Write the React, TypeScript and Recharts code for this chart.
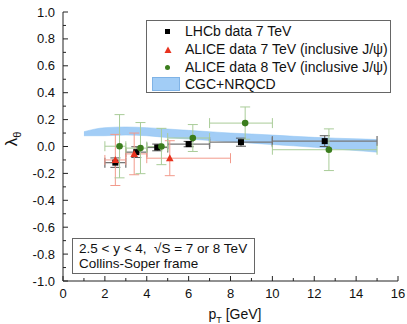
import React from 'react'
import {
  ComposedChart,
  Area,
  Scatter,
  ErrorBar,
  XAxis,
  YAxis,
} from 'recharts'

// LHCb 7 TeV
const lhcbPt = [2.5, 3.5, 4.5, 6.0, 8.5, 12.5]
const lhcbLam = [-0.12, -0.042, -0.007, 0.018, 0.032, 0.04]
const lhcbErr = [0.035, 0.04, 0.025, 0.02, 0.03, 0.04]
const lhcbPtLo = [2, 3, 4, 5, 7, 10]
const lhcbPtHi = [3, 4, 5, 7, 10, 15]

// ALICE 7 TeV (inclusive)
const alice7Pt = [2.5, 3.4, 5.1]
const alice7Lam = [-0.1, -0.055, -0.087]
const alice7Err = [0.19, 0.155, 0.13]
const alice7PtLo = [2, 3, 4]
const alice7PtHi = [3, 4, 8]

// ALICE 8 TeV (inclusive)
const alice8Pt = [2.7, 3.7, 4.7, 6.2, 8.7, 12.7]
const alice8Lam = [0.002, -0.012, 0.0, 0.063, 0.174, -0.024]
const alice8Err = [0.235, 0.19, 0.135, 0.1, 0.12, 0.155]
const alice8PtLo = [2, 3, 4, 5, 7, 10]
const alice8PtHi = [3, 4, 5, 7, 10, 15]

// CGC+NRQCD band
const bandPt = [1, 2, 3, 4, 5, 6, 7, 8, 9, 10, 11, 12, 13, 14, 15]
const bandLo = [0.08, 0.08, 0.085, 0.08, 0.066, 0.055, 0.045, 0.035, 0.025, 0.015, 0.005, -0.006, -0.018, -0.03, -0.042]
const bandHi = [0.11, 0.14, 0.145, 0.14, 0.13, 0.12, 0.11, 0.1, 0.093, 0.085, 0.076, 0.068, 0.062, 0.057, 0.052]

const xTicks = [0, 1, 2, 3, 4, 5, 6, 7, 8, 9, 10, 11, 12, 13, 14, 15, 16]
const yTicks = [-1, -0.9, -0.8, -0.7, -0.6, -0.5, -0.4, -0.3, -0.2, -0.1, 0, 0.1, 0.2, 0.3, 0.4, 0.5, 0.6, 0.7, 0.8, 0.9, 1]

const toPoints = (pt: number[], lam: number[], err: number[], lo: number[], hi: number[]) =>
  pt.map((x, i) => ({ x, y: lam[i], ey: err[i], ex: [x - lo[i], hi[i] - x] }))

const lhcb = toPoints(lhcbPt, lhcbLam, lhcbErr, lhcbPtLo, lhcbPtHi)
const alice7 = toPoints(alice7Pt, alice7Lam, alice7Err, alice7PtLo, alice7PtHi)
const alice8 = toPoints(alice8Pt, alice8Lam, alice8Err, alice8PtLo, alice8PtHi)
const band = bandPt.map((x, i) => ({ x, range: [bandLo[i], bandHi[i]] }))

const FONT = '"Liberation Sans", Arial, sans-serif'
const AXIS = '#222'
const RED = '#e8321e'
const GREEN = '#3b7d1d'

const isMajorX = (v: number) => v % 2 === 0
const isMajorY = (v: number) => Math.round(v * 10) % 2 === 0

const BottomTick = (p: any) => {
  const v = p.payload.value
  const major = isMajorX(v)
  return (
    <g>
      <line x1={p.x} x2={p.x} y1={p.y} y2={p.y - (major ? 5 : 3)} stroke={AXIS} />
      {major && (
        <text x={p.x} y={p.y + 12} dy="0.35em" textAnchor="middle" fontSize={13} fill="#111" fontFamily={FONT}>
          {v}
        </text>
      )}
    </g>
  )
}

const TopTick = (p: any) => {
  const major = isMajorX(p.payload.value)
  return <line x1={p.x} x2={p.x} y1={p.y} y2={p.y + (major ? 5 : 3)} stroke={AXIS} />
}

const LeftTick = (p: any) => {
  const v = p.payload.value
  const major = isMajorY(v)
  return (
    <g>
      <line x1={p.x} x2={p.x + (major ? 5 : 3)} y1={p.y} y2={p.y} stroke={AXIS} />
      {major && (
        <text x={p.x - 8} y={p.y} dy="0.35em" textAnchor="end" fontSize={13} fill="#111" fontFamily={FONT}>
          {v.toFixed(1)}
        </text>
      )}
    </g>
  )
}

const RightTick = (p: any) => {
  const major = isMajorY(p.payload.value)
  return <line x1={p.x} x2={p.x - (major ? 5 : 3)} y1={p.y} y2={p.y} stroke={AXIS} />
}

const Square = (p: any) => <rect x={p.cx - 3} y={p.cy - 3} width={6} height={6} fill="#000" />
const Circle = (p: any) => <circle cx={p.cx} cy={p.cy} r={3.3} fill={GREEN} />
const Triangle = (p: any) => (
  <polygon points={`${p.cx},${p.cy - 4} ${p.cx - 3.8},${p.cy + 3} ${p.cx + 3.8},${p.cy + 3}`} fill={RED} />
)

export default function App() {
  return (
    <div style={{ position: 'absolute', left: 0, top: 0, width: 407, height: 324, background: '#fff', fontFamily: FONT }}>
      <ComposedChart width={407} height={324} data={band} margin={{ top: 12, right: 9, bottom: 0, left: 0 }}>
        <XAxis
          dataKey="x"
          type="number"
          domain={[0, 16]}
          ticks={xTicks}
          interval={0}
          allowDataOverflow
          height={43}
          tickSize={0}
          tickMargin={0}
          tickLine={false}
          axisLine={{ stroke: AXIS }}
          tick={<BottomTick />}
        />
        <XAxis
          xAxisId="top"
          orientation="top"
          dataKey="x"
          type="number"
          domain={[0, 16]}
          ticks={xTicks}
          interval={0}
          allowDataOverflow
          height={0}
          tickSize={0}
          tickMargin={0}
          tickLine={false}
          axisLine={{ stroke: AXIS }}
          tick={<TopTick />}
        />
        <YAxis
          type="number"
          domain={[-1, 1]}
          ticks={yTicks}
          interval={0}
          allowDataOverflow
          width={63}
          tickSize={0}
          tickMargin={0}
          tickLine={false}
          axisLine={{ stroke: AXIS }}
          tick={<LeftTick />}
        />
        <YAxis
          yAxisId="right"
          orientation="right"
          type="number"
          domain={[-1, 1]}
          ticks={yTicks}
          interval={0}
          allowDataOverflow
          width={0}
          tickSize={0}
          tickMargin={0}
          tickLine={false}
          axisLine={{ stroke: AXIS }}
          tick={<RightTick />}
        />
        <Area
          dataKey="range"
          type="monotone"
          fill="#a2cdf6"
          fillOpacity={1}
          stroke="#8cc2f3"
          strokeWidth={0.5}
          isAnimationActive={false}
        />
        <Scatter data={lhcb} dataKey="y" shape={<Square />} isAnimationActive={false}>
          <ErrorBar dataKey="ex" direction="x" width={5} stroke="#777" strokeWidth={1.3} />
          <ErrorBar dataKey="ey" direction="y" width={5} stroke="#555" strokeWidth={1} />
        </Scatter>
        <Scatter data={alice7} dataKey="y" shape={<Triangle />} isAnimationActive={false}>
          <ErrorBar dataKey="ex" direction="x" width={5} stroke="#f29a8c" strokeWidth={1} />
          <ErrorBar dataKey="ey" direction="y" width={5} stroke="#f29a8c" strokeWidth={1} />
        </Scatter>
        <Scatter data={alice8} dataKey="y" shape={<Circle />} isAnimationActive={false}>
          <ErrorBar dataKey="ex" direction="x" width={5} stroke="#a9cc98" strokeWidth={1} />
          <ErrorBar dataKey="ey" direction="y" width={5} stroke="#a9cc98" strokeWidth={1} />
        </Scatter>
      </ComposedChart>

      {/* legend */}
      <div style={{ position: 'absolute', left: 146, top: 20, width: 243, height: 71, border: '1px solid #666', background: '#fff', fontSize: 14, color: '#111' }}>
        <div style={{ position: 'absolute', left: 18, top: 8, width: 5, height: 5, background: '#000' }} />
        <div style={{ position: 'absolute', left: 38, top: 2 }}>LHCb data 7 TeV</div>
        <svg style={{ position: 'absolute', left: 17, top: 25 }} width={8} height={8}>
          <polygon points="4,0.5 0.5,7 7.5,7" fill={RED} />
        </svg>
        <div style={{ position: 'absolute', left: 38, top: 20 }}>ALICE data 7 TeV (inclusive J/ψ)</div>
        <div style={{ position: 'absolute', left: 18, top: 44, width: 5, height: 5, borderRadius: '50%', background: GREEN }} />
        <div style={{ position: 'absolute', left: 38, top: 38 }}>ALICE data 8 TeV (inclusive J/ψ)</div>
        <div style={{ position: 'absolute', left: 5, top: 56, width: 28, height: 14, background: '#a2cdf6', border: '1px solid #7fb3e6', boxSizing: 'border-box' }} />
        <div style={{ position: 'absolute', left: 38, top: 55 }}>CGC+NRQCD</div>
      </div>

      {/* kinematics box */}
      <div style={{ position: 'absolute', left: 72, top: 238, width: 181, height: 34, border: '1px solid #666', background: '#fff', fontSize: 13.5, color: '#111', lineHeight: '15px' }}>
        <div style={{ position: 'absolute', left: 6, top: 2, whiteSpace: 'nowrap' }}>2.5 &lt; y &lt; 4,&nbsp;&nbsp;√S = 7 or 8 TeV</div>
        <div style={{ position: 'absolute', left: 6, top: 17, whiteSpace: 'nowrap' }}>Collins-Soper frame</div>
      </div>

      {/* axis titles */}
      <div style={{ position: 'absolute', left: 180, top: 306, width: 110, textAlign: 'center', fontSize: 14, color: '#111' }}>
        p<sub style={{ fontSize: 9 }}>T</sub> [GeV]
      </div>
      <div style={{ position: 'absolute', left: -7, top: 128, width: 40, height: 22, textAlign: 'center', fontSize: 17, color: '#111', transform: 'rotate(-90deg)' }}>
        λ<sub style={{ fontSize: 11 }}>θ</sub>
      </div>
    </div>
  )
}
